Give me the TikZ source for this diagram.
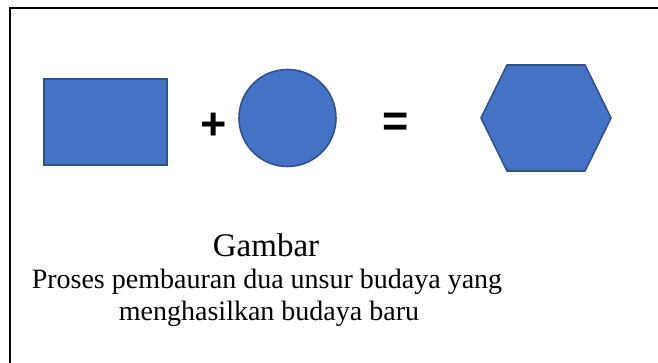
\documentclass[tikz,border=0pt]{standalone}
\usepackage{fontspec}
\setmainfont{Liberation Serif}
\newfontfamily\signfont{Liberation Sans}
\definecolor{shapefill}{HTML}{4472C4}
\definecolor{shapeline}{HTML}{2F528F}
\begin{document}
\begin{tikzpicture}[x=1pt,y=-1pt,
  shapestyle/.style={fill=shapefill,draw=shapeline,line width=1.6pt},
  signstyle/.style={inner sep=0pt,font=\signfont\bfseries\fontsize{45}{50}\selectfont},
  captionstyle/.style={inner sep=0pt,align=center}]
\useasboundingbox (0,0) rectangle (658,363);
\begin{scope}
\clip (0,0) rectangle (658,363);
\draw[line width=2.6pt] (10,8) rectangle (680,390);
\end{scope}
\node[shapestyle,rectangle,minimum width=123pt,minimum height=86pt,inner sep=0pt] (rect) at (105.5,122) {};
\node[shapestyle,circle,minimum size=97pt,inner sep=0pt] (circ) at (287.5,118) {};
\draw[shapestyle,line join=round] (481,118) -- (507,65) -- (585,65) -- (611,118) -- (585,171) -- (507,171) -- cycle;
\node[signstyle] (plus) at (214,126) {+};
\node[signstyle] (eq) at (396,125) {=};
\node[captionstyle,font=\fontsize{33}{34}\selectfont,anchor=base] (title) at (266,256) {Gambar};
\node[captionstyle,font=\fontsize{28}{32}\selectfont,anchor=base] (cap1) at (267,288) {Proses pembauran dua unsur budaya yang};
\node[captionstyle,font=\fontsize{28}{32}\selectfont,anchor=base] (cap2) at (269,320) {menghasilkan budaya baru};
\end{tikzpicture}
\end{document}
